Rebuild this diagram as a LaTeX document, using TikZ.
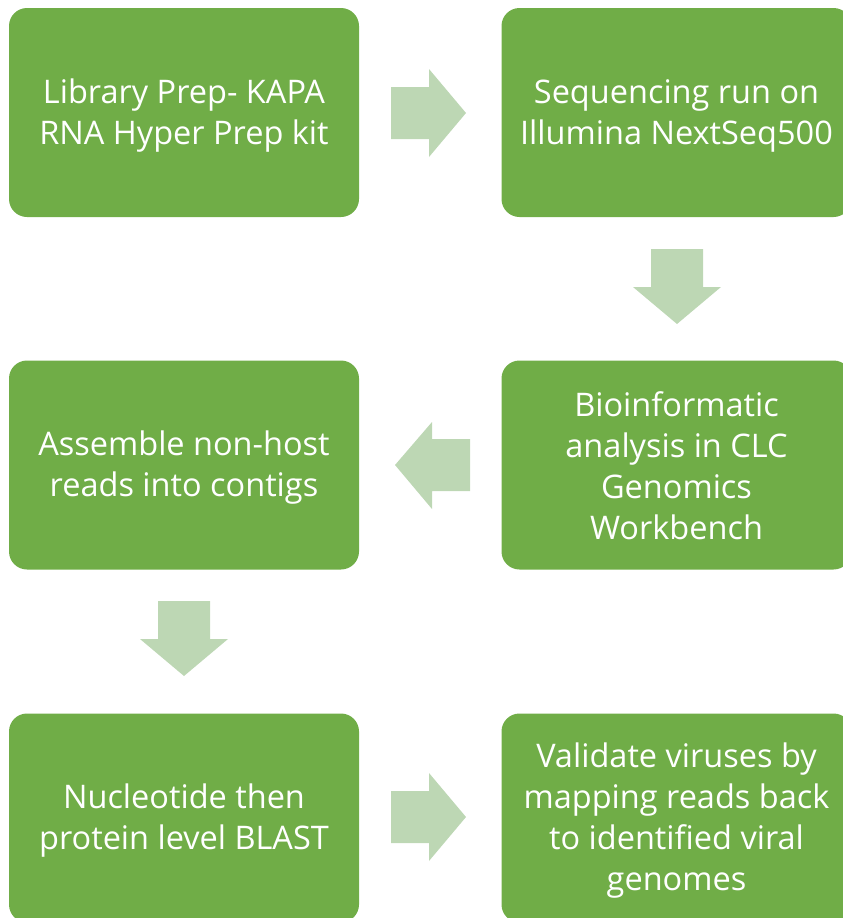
\documentclass[tikz,border=0pt]{standalone}
\usepackage{fontspec}
\setmainfont{Open Sans}
\definecolor{boxgreen}{HTML}{70AD47}
\definecolor{arrowgreen}{HTML}{BDD7B4}
\begin{document}
\begin{tikzpicture}[x=1pt,y=-1pt,
  stepbox/.style={fill=boxgreen, rounded corners=18pt, minimum width=350pt, minimum height=209pt, inner sep=0pt},
  steptext/.style={align=center, text=white, inner sep=0pt, font=\fontsize{32.5}{41}\selectfont},
  blockarrow/.style={fill=arrowgreen}]
\useasboundingbox (0,0) rectangle (843,918);
\clip (0,0) rectangle (843,918);
\node[stepbox] (n1) at (184,112.5) {};
\node[stepbox] (n2) at (676.5,112.5) {};
\node[stepbox] (n3) at (676.5,465) {};
\node[stepbox] (n4) at (184,465) {};
\node[stepbox] (n5) at (184,818) {};
\node[stepbox] (n6) at (676.5,818) {};
\node[steptext, yshift=-3.5pt] (t1) at (n1.center) {Library Prep- KAPA\\RNA Hyper Prep kit};
\node[steptext, yshift=-3.5pt] (t2) at (n2.center) {Sequencing run on\\Illumina NextSeq500};
\node[steptext, yshift=-1pt] (t3) at (n3.center) {Bioinformatic\\analysis in CLC\\Genomics\\Workbench};
\node[steptext, yshift=-3pt] (t4) at (n4.center) {Assemble non-host\\reads into contigs};
\node[steptext, yshift=-3pt] (t5) at (n5.center) {Nucleotide then\\protein level BLAST};
\node[steptext, yshift=-2.5pt] (t6) at (n6.center) {Validate viruses by\\mapping reads back\\to identified viral\\genomes};
% block arrows
\fill[blockarrow] (391,87) -- (429,87) -- (429,69) -- (466,113) -- (429,157) -- (429,139) -- (391,139) -- cycle;
\fill[blockarrow] (651,249) -- (703,249) -- (703,287) -- (721,287) -- (677,324) -- (633,287) -- (651,287) -- cycle;
\fill[blockarrow] (470,439) -- (432,439) -- (432,422) -- (395,465) -- (432,509) -- (432,491) -- (470,491) -- cycle;
\fill[blockarrow] (158,601) -- (210,601) -- (210,639) -- (228,639) -- (184,676) -- (140,639) -- (158,639) -- cycle;
\fill[blockarrow] (391,791) -- (429,791) -- (429,773) -- (466,817) -- (429,861) -- (429,843) -- (391,843) -- cycle;
\end{tikzpicture}
\end{document}
